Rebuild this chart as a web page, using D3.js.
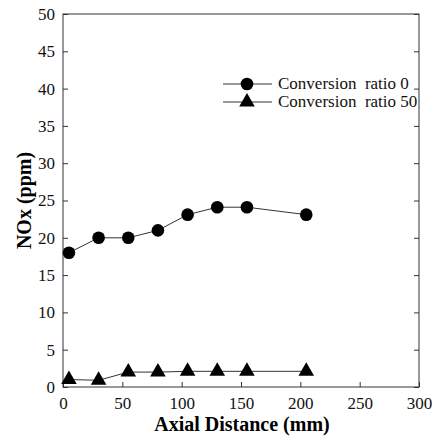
<!DOCTYPE html>
<html>
<head>
<meta charset="utf-8">
<script src="https://cdn.jsdelivr.net/npm/d3@7"></script>
<style>
  body { margin: 0; background: #fff; }
</style>
</head>
<body>
<div id="container"></div>
<script>
const width = 439,
  height = 439,
  margin = { top: 14, bottom: 52, left: 63, right: 20 }

/* DATA */
const distance = [5, 30, 55, 80, 105, 130, 155, 205]
const ratio0 = [18, 20, 20, 21, 23.1, 24.1, 24.1, 23.1]
const ratio50 = [1, 0.9, 2, 2, 2.1, 2.1, 2.1, 2.1]
const xTicks = [0, 50, 100, 150, 200, 250, 300]
const yTicks = [0, 5, 10, 15, 20, 25, 30, 35, 40, 45, 50]
const seriesNames = ["Conversion  ratio 0", "Conversion  ratio 50"]

const serif = "Liberation Serif"

// SCALES
const xScale = d3.scaleLinear()
  .domain([0, 300])
  .range([margin.left, width - margin.right])

const yScale = d3.scaleLinear()
  .domain([0, 50])
  .range([height - margin.bottom, margin.top])

const svg = d3.select("#container")
  .append("svg")
  .attr("width", width)
  .attr("height", height)

// frame
svg.append("rect")
  .attr("x", margin.left)
  .attr("y", margin.top)
  .attr("width", width - margin.left - margin.right)
  .attr("height", height - margin.top - margin.bottom)
  .attr("fill", "none")
  .attr("stroke", "#333")
  .attr("stroke-width", 1)

// AXES (ticks point inward)
const xAxis = d3.axisBottom(xScale).tickValues(xTicks).tickSizeInner(-5).tickSizeOuter(0).tickPadding(10)
svg.append("g")
  .attr("transform", `translate(0,${height - margin.bottom})`)
  .call(xAxis)
  .call(g => g.select(".domain").remove())
  .selectAll("text").style("font-family", serif).style("font-size", "17px").style("fill", "#111")

const yAxis = d3.axisLeft(yScale).tickValues(yTicks).tickSizeInner(-5).tickSizeOuter(0).tickPadding(8)
svg.append("g")
  .attr("transform", `translate(${margin.left},0)`)
  .call(yAxis)
  .call(g => g.select(".domain").remove())
  .selectAll("text").style("font-family", serif).style("font-size", "17px").style("fill", "#111")

// right side ticks, no labels
svg.append("g")
  .attr("transform", `translate(${width - margin.right},0)`)
  .call(d3.axisRight(yScale).tickValues(yTicks).tickSizeInner(-5).tickSizeOuter(0).tickFormat(""))
  .call(g => g.select(".domain").remove())

svg.selectAll(".tick line").attr("stroke", "#333")

// axis titles
svg.append("text")
  .attr("x", 242)
  .attr("y", height - 8)
  .attr("text-anchor", "middle")
  .style("font-family", serif)
  .style("font-weight", "bold")
  .style("font-size", "20px")
  .text("Axial Distance (mm)")

svg.append("text")
  .attr("transform", `translate(31,${(margin.top + height - margin.bottom) / 2}) rotate(-90)`)
  .attr("text-anchor", "middle")
  .style("font-family", serif)
  .style("font-weight", "bold")
  .style("font-size", "20px")
  .text("NOx (ppm)")

// LINES
const lineGen = d3.line()
  .x(d => xScale(d[0]))
  .y(d => yScale(d[1]))

const s0 = distance.map((d, i) => [d, ratio0[i]])
const s50 = distance.map((d, i) => [d, ratio50[i]])

svg.append("path")
  .attr("d", lineGen(s0))
  .attr("fill", "none")
  .attr("stroke", "#333")
  .attr("stroke-width", 1)

svg.append("path")
  .attr("d", lineGen(s50))
  .attr("fill", "none")
  .attr("stroke", "#333")
  .attr("stroke-width", 1)

const circleSym = d3.symbol().type(d3.symbolCircle).size(125)
const triSym = d3.symbol().type(d3.symbolTriangle).size(105)

svg.selectAll(".pt0")
  .data(s0)
  .join("path")
  .attr("class", "pt0")
  .attr("transform", d => `translate(${xScale(d[0])},${yScale(d[1])})`)
  .attr("d", circleSym)
  .attr("fill", "#000")

svg.selectAll(".pt50")
  .data(s50)
  .join("path")
  .attr("class", "pt50")
  .attr("transform", d => `translate(${xScale(d[0])},${yScale(d[1])})`)
  .attr("d", triSym)
  .attr("fill", "#000")

// LEGEND
const legend = svg.append("g")
const syms = [circleSym, triSym]
seriesNames.forEach((name, i) => {
  const y = 84 + i * 18
  legend.append("line")
    .attr("x1", 223).attr("x2", 272)
    .attr("y1", y).attr("y2", y)
    .attr("stroke", "#333")
  legend.append("path")
    .attr("transform", `translate(247,${y})`)
    .attr("d", syms[i])
    .attr("fill", "#000")
  legend.append("text")
    .attr("x", 278)
    .attr("y", y + 5)
    .style("font-family", serif)
    .style("font-size", "17px")
    .style("fill", "#111")
    .style("white-space", "pre")
    .text(name)
})
</script>
</body>
</html>
